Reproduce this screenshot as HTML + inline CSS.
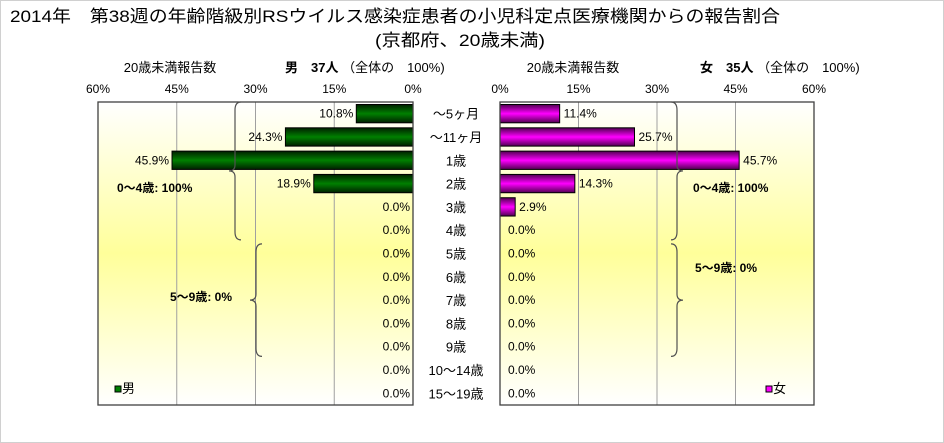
<!DOCTYPE html>
<html><head><meta charset="utf-8"><style>
html,body{margin:0;padding:0;background:#fff;}
svg{display:block;font-family:"Liberation Sans","Noto Sans CJK JP",sans-serif;}
</style></head><body>
<svg id="chart" width="944" height="443" viewBox="0 0 944 443" xmlns="http://www.w3.org/2000/svg">
<defs>
<linearGradient id="bg" x1="0" y1="0" x2="0" y2="1">
<stop offset="0" stop-color="#ffffff"/><stop offset="0.5" stop-color="#ffff9a"/><stop offset="1" stop-color="#ffffff"/>
</linearGradient>
<linearGradient id="gm" x1="0" y1="0" x2="0" y2="1">
<stop offset="0" stop-color="#002000"/><stop offset="0.5" stop-color="#008000"/><stop offset="1" stop-color="#002000"/>
</linearGradient>
<linearGradient id="gf" x1="0" y1="0" x2="0" y2="1">
<stop offset="0" stop-color="#500050"/><stop offset="0.5" stop-color="#ff00ff"/><stop offset="1" stop-color="#500050"/>
</linearGradient>
</defs>
<rect x="0.5" y="0.5" width="943" height="442" fill="#fff" stroke="#d0d0d0"/>
<text x="10" y="22" font-size="17" textLength="770" lengthAdjust="spacingAndGlyphs">2014年　第38週の年齢階級別RSウイルス感染症患者の小児科定点医療機関からの報告割合</text>
<text x="375" y="46" font-size="17" textLength="170" lengthAdjust="spacingAndGlyphs">(京都府、20歳未満)</text>
<text x="170" y="72" font-size="13" text-anchor="middle">20歳未満報告数</text>
<text x="285" y="72" font-size="13"><tspan font-weight="bold">男　37人</tspan> （全体の　100%)</text>
<text x="573" y="72" font-size="13" text-anchor="middle">20歳未満報告数</text>
<text x="700" y="72" font-size="13"><tspan font-weight="bold">女　35人</tspan> （全体の　100%)</text>
<g id="g"></g>
</svg>
<script>
const categories=["～5ヶ月","～11ヶ月","1歳","2歳","3歳","4歳","5歳","6歳","7歳","8歳","9歳","10～14歳","15～19歳"];
const maleValues=[10.8,24.3,45.9,18.9,0,0,0,0,0,0,0,0,0];
const femaleValues=[11.4,25.7,45.7,14.3,2.9,0,0,0,0,0,0,0,0];
const tickValues=[0,15,30,45,60];
const NS="http://www.w3.org/2000/svg";
const g=document.getElementById('g');
function el(t,a,p){const e=document.createElementNS(NS,t);for(const k in a)e.setAttribute(k,a[k]);(p||g).appendChild(e);return e;}
const plotTop=102,plotBot=405,rowH=(plotBot-plotTop)/categories.length;
const L={x0:413,x1:98},R={x0:500,x1:814};
function xm(v){return L.x0-(L.x0-L.x1)*v/60;}
function xf(v){return R.x0+(R.x1-R.x0)*v/60;}
function yr(i){return plotTop+rowH*i;}
let e=el('rect',{x:L.x1,y:plotTop,width:L.x0-L.x1,height:plotBot-plotTop,fill:'url(#bg)'});

e=el('rect',{x:R.x0,y:plotTop,width:R.x1-R.x0,height:plotBot-plotTop,fill:'url(#bg)'});

tickValues.forEach(t=>{
  if(t>0&&t<60){
    e=el('line',{x1:xm(t),x2:xm(t),y1:plotTop,y2:plotBot,stroke:'#a0a0a0'});
    
    e=el('line',{x1:xf(t),x2:xf(t),y1:plotTop,y2:plotBot,stroke:'#a0a0a0'});
    
  }
  e=el('text',{x:xm(t),y:93,'font-size':12,'text-anchor':'middle'});e.textContent=t+'%';
  
  e=el('text',{x:xf(t),y:93,'font-size':12,'text-anchor':'middle'});e.textContent=t+'%';
  
});
categories.forEach((c,i)=>{
  const y=yr(i),cy=y+rowH/2;
  const mv=maleValues[i],fv=femaleValues[i];
  if(mv>0){e=el('rect',{x:xm(mv),y:y+2.5,width:L.x0-xm(mv),height:rowH-5,fill:'url(#gm)',stroke:'#000'});
    }
  e=el('text',{x:(mv>0?xm(mv)-3:410),y:cy+4,'font-size':12,'text-anchor':'end'});e.textContent=mv.toFixed(1)+'%';
  
  if(fv>0){e=el('rect',{x:R.x0,y:y+2.5,width:xf(fv)-R.x0,height:rowH-5,fill:'url(#gf)',stroke:'#000'});
    }
  e=el('text',{x:(fv>0?xf(fv)+4:508),y:cy+4,'font-size':12});e.textContent=fv.toFixed(1)+'%';
  
  e=el('text',{x:456,y:cy+5,'font-size':13,'text-anchor':'middle'});e.textContent=c;
  
});
e=el('rect',{x:L.x1,y:plotTop,width:L.x0-L.x1,height:plotBot-plotTop,fill:'none',stroke:'#404040','stroke-width':1.3});

e=el('rect',{x:R.x0,y:plotTop,width:R.x1-R.x0,height:plotBot-plotTop,fill:'none',stroke:'#404040','stroke-width':1.3});

function brace(x,y1,y2,dir){const m=(y1+y2)/2,d=6*dir;
  return `M${x+d},${y1} Q${x},${y1} ${x},${y1+8} L${x},${m-6} Q${x},${m} ${x-d},${m} Q${x},${m} ${x},${m+6} L${x},${y2-8} Q${x},${y2} ${x+d},${y2}`;}
const braces=[[235,yr(0),yr(6)-2,1,'male-brace-0-4'],[256,yr(6)+2,yr(11)-2,1,'male-brace-5-9'],[677,yr(0),yr(6)-2,-1,'female-brace-0-4'],[677,yr(6)+2,yr(11)-2,-1,'female-brace-5-9']];
braces.forEach(b=>{e=el('path',{d:brace(b[0],b[1],b[2],b[3]),fill:'none',stroke:'#505050','stroke-width':1.2});
  });
const notes=[[117,192,'0～4歳: 100%','male-group-0-4-label'],[170,301,'5～9歳: 0%','male-group-5-9-label'],[693,192,'0～4歳: 100%','female-group-0-4-label'],[695,272,'5～9歳: 0%','female-group-5-9-label']];
notes.forEach(n=>{e=el('text',{x:n[0],y:n[1],'font-size':12,'font-weight':'bold'});e.textContent=n[2];
  });
e=el('rect',{x:115,y:386,width:6,height:6,fill:'#008000',stroke:'#000'});

e=el('text',{x:122,y:393,'font-size':13});e.textContent='男';

e=el('rect',{x:766,y:386,width:6,height:6,fill:'#ff00ff',stroke:'#000'});

e=el('text',{x:773,y:393,'font-size':13});e.textContent='女';

</script>
</body></html>
